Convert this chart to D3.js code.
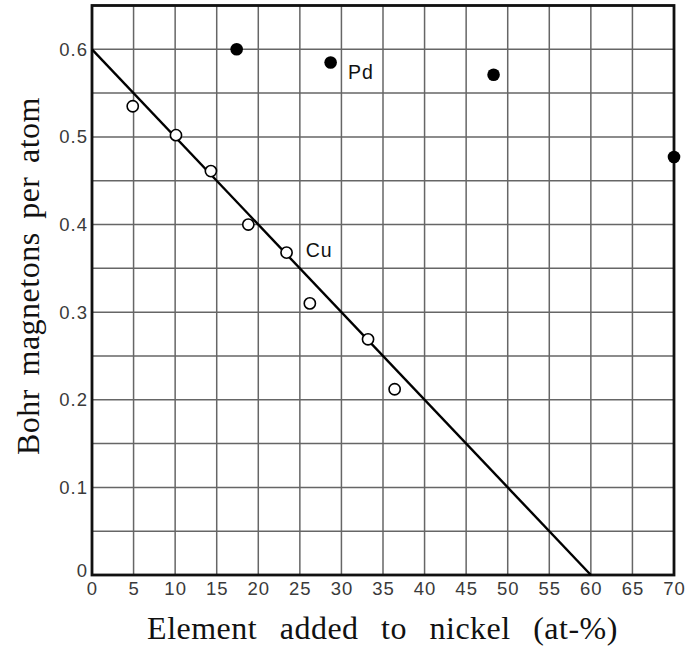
<!DOCTYPE html>
<html>
<head>
<meta charset="utf-8">
<script src="https://cdn.jsdelivr.net/npm/d3@7"></script>
<style>
  html, body { margin: 0; padding: 0; background: #fff; }
  svg { display: block; }
</style>
</head>
<body>
<svg id="chart" width="689" height="653"></svg>
<script>
// Ni–Cu alloys (open circles)
const cuX = [4.9, 10.1, 14.3, 18.8, 23.4, 26.2, 33.2, 36.4];
const cuY = [0.535, 0.502, 0.461, 0.400, 0.368, 0.310, 0.269, 0.212];
// Ni–Pd alloys (filled circles)
const pdX = [17.4, 28.7, 48.3, 70];
const pdY = [0.600, 0.585, 0.571, 0.477];
// Straight line through 0.6 at pure Ni down to zero at 60 at-%
const lineX = [0, 60];
const lineY = [0.6, 0];
// Series labels
const labelText = ["Cu", "Pd"];
const labelX = [25.7, 30.8];
const labelY = [0.363, 0.566];
// Axis ticks
const xTicks = d3.range(0, 71, 5);
const yTicks = [0, 0.1, 0.2, 0.3, 0.4, 0.5, 0.6];
const yGrid = d3.range(0, 14).map(i => +(i * 0.05).toFixed(2));

const svg = d3.select("#chart");
const plotLeft = 92, plotRight = 674, plotTop = 5.5, plotBottom = 575;

const x = d3.scaleLinear().domain([0, 70]).range([plotLeft, plotRight]);
const y = d3.scaleLinear().domain([0, 0.65]).range([plotBottom, plotTop]);

// grid
const grid = svg.append("g").attr("stroke", "#666").attr("stroke-width", 1.5);
grid.selectAll("line.v").data(xTicks).join("line")
  .attr("class", "v")
  .attr("x1", d => x(d)).attr("x2", d => x(d))
  .attr("y1", y(0)).attr("y2", y(0.65));
grid.selectAll("line.h").data(yGrid).join("line")
  .attr("class", "h")
  .attr("x1", x(0)).attr("x2", x(70))
  .attr("y1", d => y(d)).attr("y2", d => y(d));

// frame
svg.append("rect")
  .attr("x", x(0)).attr("y", y(0.65))
  .attr("width", x(70) - x(0)).attr("height", y(0) - y(0.65))
  .attr("fill", "none").attr("stroke", "#111").attr("stroke-width", 2.8);

// tick labels
const xAxis = svg.append("g")
  .attr("transform", `translate(0,${plotBottom})`)
  .call(d3.axisBottom(x).tickValues(xTicks).tickSize(0).tickPadding(7).tickFormat(d3.format("d")));
const yAxis = svg.append("g")
  .attr("transform", `translate(${plotLeft},0)`)
  .call(d3.axisLeft(y).tickValues(yTicks).tickSize(0).tickPadding(4)
    .tickFormat(d => d === 0 ? "0" : d3.format(".1f")(d)));
[xAxis, yAxis].forEach(a => {
  a.select(".domain").remove();
  a.selectAll("text")
    .attr("font-family", "'Liberation Sans', Arial, sans-serif")
    .attr("font-size", 18.5).attr("letter-spacing", 1).attr("fill", "#3a3a3a");
});
yAxis.selectAll("text").filter(d => d === 0).attr("dy", "0.1em");

// fitted line
svg.append("path")
  .datum(d3.zip(lineX, lineY))
  .attr("d", d3.line().x(d => x(d[0])).y(d => y(d[1])))
  .attr("fill", "none").attr("stroke", "#000").attr("stroke-width", 2.4);

// Cu points
svg.append("g").selectAll("circle").data(d3.zip(cuX, cuY)).join("circle")
  .attr("cx", d => x(d[0])).attr("cy", d => y(d[1])).attr("r", 5.6)
  .attr("fill", "#fff").attr("stroke", "#000").attr("stroke-width", 1.6);

// Pd points
svg.append("g").selectAll("circle").data(d3.zip(pdX, pdY)).join("circle")
  .attr("cx", d => x(d[0])).attr("cy", d => y(d[1])).attr("r", 6.3)
  .attr("fill", "#000");

// series labels
svg.append("g").selectAll("text").data(d3.range(labelText.length)).join("text")
  .attr("x", i => x(labelX[i])).attr("y", i => y(labelY[i]))
  .attr("font-family", "'Liberation Sans', Arial, sans-serif")
  .attr("font-size", 19.5).attr("letter-spacing", 1).attr("fill", "#111")
  .text(i => labelText[i]);

// axis titles
svg.append("text")
  .attr("x", 382.5).attr("y", 639)
  .attr("text-anchor", "middle")
  .attr("font-family", "'Liberation Serif', 'Times New Roman', serif")
  .attr("font-size", 32).attr("letter-spacing", 0.5).attr("word-spacing", 14)
  .attr("fill", "#111")
  .text("Element added to nickel (at-%)");

svg.append("text")
  .attr("transform", "translate(39,276) rotate(-90)")
  .attr("text-anchor", "middle")
  .attr("font-family", "'Liberation Serif', 'Times New Roman', serif")
  .attr("font-size", 32).attr("letter-spacing", 0.5).attr("word-spacing", 5)
  .attr("fill", "#111")
  .text("Bohr magnetons per atom");
</script>
</body>
</html>
